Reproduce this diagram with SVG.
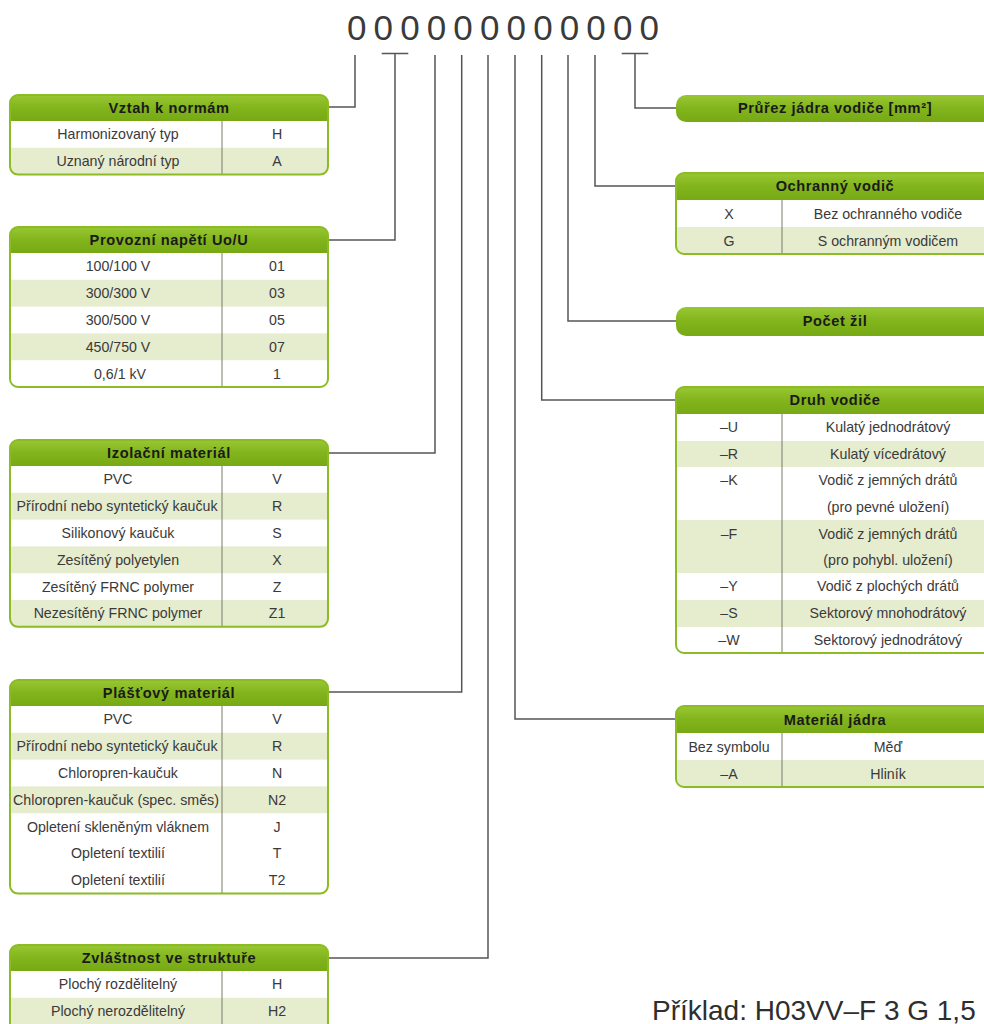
<svg xmlns="http://www.w3.org/2000/svg" width="984" height="1024" viewBox="0 0 984 1024">
<style>
.hd{fill:url(#hg)}
.w{fill:#ffffff}
.g{fill:#e6ecce}
.bd{fill:none;stroke:#8cbc24;stroke-width:2}
.dv{stroke:#7a7a6a;stroke-width:1}
.t{font-family:"Liberation Sans",Arial,sans-serif;font-size:14.2px;fill:#3a3a3a;text-anchor:middle}
.h{font-family:"Liberation Sans",Arial,sans-serif;font-size:14.6px;font-weight:bold;fill:#1a1a1a;text-anchor:middle;letter-spacing:0.6px}
.z{font-family:"Liberation Sans",Arial,sans-serif;font-size:35px;fill:#3a3a3a;text-anchor:middle}
.ex{font-family:"Liberation Sans",Arial,sans-serif;font-size:28px;fill:#2e2e2e}
.c{fill:none;stroke:#555;stroke-width:1.5}
</style>
<defs>
<linearGradient id="hg" x1="0" y1="0" x2="0" y2="1">
<stop offset="0" stop-color="#98c733"/>
<stop offset="0.5" stop-color="#82b41c"/>
<stop offset="1" stop-color="#77a915"/>
</linearGradient>
<clipPath id="c1"><rect x="10" y="95" width="318" height="79.6" rx="8"/></clipPath>
<clipPath id="c2"><rect x="10" y="227" width="318" height="160" rx="8"/></clipPath>
<clipPath id="c3"><rect x="10" y="440" width="318" height="186.8" rx="8"/></clipPath>
<clipPath id="c4"><rect x="10" y="680" width="318" height="213.6" rx="8"/></clipPath>
<clipPath id="c5"><rect x="10" y="945" width="318" height="90" rx="8"/></clipPath>
<clipPath id="r2"><rect x="676" y="173" width="318" height="81" rx="8"/></clipPath>
<clipPath id="r4"><rect x="676" y="387" width="318" height="266" rx="8"/></clipPath>
<clipPath id="r5"><rect x="676" y="706" width="318" height="81" rx="8"/></clipPath>
</defs>
<rect width="984" height="1024" fill="#ffffff"/>

<g id="code">
<text class="z" x="356.7" y="40">0</text>
<text class="z" x="383.3" y="40">0</text>
<text class="z" x="409.9" y="40">0</text>
<text class="z" x="436.5" y="40">0</text>
<text class="z" x="463.1" y="40">0</text>
<text class="z" x="489.7" y="40">0</text>
<text class="z" x="516.3" y="40">0</text>
<text class="z" x="542.9" y="40">0</text>
<text class="z" x="569.5" y="40">0</text>
<text class="z" x="596.1" y="40">0</text>
<text class="z" x="622.7" y="40">0</text>
<text class="z" x="649.3" y="40">0</text>
</g>

<g id="connectors">
<path class="c" d="M355 55 V107 H328"/>
<path class="c" d="M381.7 53.5 H408.3 M395 53.5 V240 H328"/>
<path class="c" d="M435 55 V453 H328"/>
<path class="c" d="M461.7 55 V692 H328"/>
<path class="c" d="M488 55 V958 H328"/>
<path class="c" d="M515 55 V719 H676"/>
<path class="c" d="M541.7 55 V400 H676"/>
<path class="c" d="M568 55 V321 H676"/>
<path class="c" d="M595 55 V186 H676"/>
<path class="c" d="M621.7 53.5 H648.3 M635 53.5 V108 H676"/>
</g>

<g id="vztah">
<g clip-path="url(#c1)">
<rect class="w" x="10" y="95" width="318" height="80"/>
<rect class="hd" x="10" y="95" width="318" height="26"/>
<rect class="g" x="10" y="147.8" width="318" height="27"/>
</g>
<line class="dv" x1="222" y1="121" x2="222" y2="174.6"/>
<rect class="bd" x="10" y="95" width="318" height="79.6" rx="8"/>
<text class="h" x="169" y="113">Vztah k normám</text>
<text class="t" x="118" y="139.4">Harmonizovaný typ</text><text class="t" x="277" y="139.4">H</text>
<text class="t" x="118" y="166.2">Uznaný národní typ</text><text class="t" x="277" y="166.2">A</text>
</g>

<g id="napeti">
<g clip-path="url(#c2)">
<rect class="w" x="10" y="227" width="318" height="160"/>
<rect class="hd" x="10" y="227" width="318" height="26"/>
<rect class="g" x="10" y="279.8" width="318" height="26.8"/>
<rect class="g" x="10" y="333.4" width="318" height="26.8"/>
</g>
<line class="dv" x1="222" y1="253" x2="222" y2="387"/>
<rect class="bd" x="10" y="227" width="318" height="160" rx="8"/>
<text class="h" x="169" y="245">Provozní napětí Uo/U</text>
<text class="t" x="118" y="271.4">100/100 V</text><text class="t" x="277" y="271.4">01</text>
<text class="t" x="118" y="298.2">300/300 V</text><text class="t" x="277" y="298.2">03</text>
<text class="t" x="118" y="325">300/500 V</text><text class="t" x="277" y="325">05</text>
<text class="t" x="118" y="351.8">450/750 V</text><text class="t" x="277" y="351.8">07</text>
<text class="t" x="120" y="378.6">0,6/1 kV</text><text class="t" x="277" y="378.6">1</text>
</g>

<g id="izolace">
<g clip-path="url(#c3)">
<rect class="w" x="10" y="440" width="318" height="187"/>
<rect class="hd" x="10" y="440" width="318" height="26"/>
<rect class="g" x="10" y="492.8" width="318" height="26.8"/>
<rect class="g" x="10" y="546.4" width="318" height="26.8"/>
<rect class="g" x="10" y="600" width="318" height="27"/>
</g>
<line class="dv" x1="222" y1="466" x2="222" y2="626.8"/>
<rect class="bd" x="10" y="440" width="318" height="186.8" rx="8"/>
<text class="h" x="169" y="458">Izolační materiál</text>
<text class="t" x="118" y="484.4">PVC</text><text class="t" x="277" y="484.4">V</text>
<text class="t" x="117" y="511.2">Přírodní nebo syntetický kaučuk</text><text class="t" x="277" y="511.2">R</text>
<text class="t" x="118" y="538">Silikonový kaučuk</text><text class="t" x="277" y="538">S</text>
<text class="t" x="118" y="564.8">Zesítěný polyetylen</text><text class="t" x="277" y="564.8">X</text>
<text class="t" x="118" y="591.6">Zesítěný FRNC polymer</text><text class="t" x="277" y="591.6">Z</text>
<text class="t" x="118" y="618.4">Nezesítěný FRNC polymer</text><text class="t" x="277" y="618.4">Z1</text>
</g>

<g id="plast">
<g clip-path="url(#c4)">
<rect class="w" x="10" y="680" width="318" height="214"/>
<rect class="hd" x="10" y="680" width="318" height="26"/>
<rect class="g" x="10" y="732.8" width="318" height="26.8"/>
<rect class="g" x="10" y="786.4" width="318" height="26.8"/>
</g>
<line class="dv" x1="222" y1="706" x2="222" y2="893.6"/>
<rect class="bd" x="10" y="680" width="318" height="213.6" rx="8"/>
<text class="h" x="169" y="698">Plášťový materiál</text>
<text class="t" x="118" y="724.4">PVC</text><text class="t" x="277" y="724.4">V</text>
<text class="t" x="117" y="751.2">Přírodní nebo syntetický kaučuk</text><text class="t" x="277" y="751.2">R</text>
<text class="t" x="118" y="778">Chloropren-kaučuk</text><text class="t" x="277" y="778">N</text>
<text class="t" x="116" y="804.8" textLength="206" lengthAdjust="spacingAndGlyphs">Chloropren-kaučuk (spec. směs)</text><text class="t" x="277" y="804.8">N2</text>
<text class="t" x="118" y="831.6">Opletení skleněným vláknem</text><text class="t" x="277" y="831.6">J</text>
<text class="t" x="118" y="858.4">Opletení textilií</text><text class="t" x="277" y="858.4">T</text>
<text class="t" x="118" y="885.2">Opletení textilií</text><text class="t" x="277" y="885.2">T2</text>
</g>

<g id="struktura">
<g clip-path="url(#c5)">
<rect class="w" x="10" y="945" width="318" height="90"/>
<rect class="hd" x="10" y="945" width="318" height="26"/>
<rect class="g" x="10" y="997.8" width="318" height="40"/>
</g>
<line class="dv" x1="222" y1="971" x2="222" y2="1035"/>
<rect class="bd" x="10" y="945" width="318" height="90" rx="8"/>
<text class="h" x="169" y="963">Zvláštnost ve struktuře</text>
<text class="t" x="118" y="989.4">Plochý rozdělitelný</text><text class="t" x="277" y="989.4">H</text>
<text class="t" x="118" y="1016.2">Plochý nerozdělitelný</text><text class="t" x="277" y="1016.2">H2</text>
</g>

<g id="prurez">
<rect class="hd" x="676" y="95" width="318" height="27" rx="10"/>
<text class="h" x="835" y="113">Průřez jádra vodiče [mm²]</text>
</g>

<g id="ochranny">
<g clip-path="url(#r2)">
<rect class="w" x="676" y="173" width="318" height="81"/>
<rect class="hd" x="676" y="173" width="318" height="27"/>
<rect class="g" x="676" y="227" width="318" height="27"/>
</g>
<line class="dv" x1="782" y1="200" x2="782" y2="254"/>
<rect class="bd" x="676" y="173" width="318" height="81" rx="8"/>
<text class="h" x="835" y="191">Ochranný vodič</text>
<text class="t" x="729" y="218.5">X</text><text class="t" x="888" y="218.5">Bez ochranného vodiče</text>
<text class="t" x="729" y="245.5">G</text><text class="t" x="888" y="245.5">S ochranným vodičem</text>
</g>

<g id="pocet">
<rect class="hd" x="676" y="307" width="318" height="29" rx="10"/>
<text class="h" x="835" y="326">Počet žil</text>
</g>

<g id="druh">
<g clip-path="url(#r4)">
<rect class="w" x="676" y="387" width="318" height="266"/>
<rect class="hd" x="676" y="387" width="318" height="27"/>
<rect class="g" x="676" y="441" width="318" height="26"/>
<rect class="g" x="676" y="520" width="318" height="53"/>
<rect class="g" x="676" y="600" width="318" height="27"/>
</g>
<line class="dv" x1="782" y1="414" x2="782" y2="653"/>
<rect class="bd" x="676" y="387" width="318" height="266" rx="8"/>
<text class="h" x="835" y="405">Druh vodiče</text>
<text class="t" x="729" y="432">–U</text><text class="t" x="888" y="432">Kulatý jednodrátový</text>
<text class="t" x="729" y="458.5">–R</text><text class="t" x="888" y="458.5">Kulatý vícedrátový</text>
<text class="t" x="729" y="485">–K</text><text class="t" x="888" y="485">Vodič z jemných drátů</text>
<text class="t" x="888" y="512">(pro pevné uložení)</text>
<text class="t" x="729" y="539">–F</text><text class="t" x="888" y="539">Vodič z jemných drátů</text>
<text class="t" x="888" y="565">(pro pohybl. uložení)</text>
<text class="t" x="729" y="591">–Y</text><text class="t" x="888" y="591">Vodič z plochých drátů</text>
<text class="t" x="729" y="618">–S</text><text class="t" x="888" y="618">Sektorový mnohodrátový</text>
<text class="t" x="729" y="644.5">–W</text><text class="t" x="888" y="644.5">Sektorový jednodrátový</text>
</g>

<g id="material">
<g clip-path="url(#r5)">
<rect class="w" x="676" y="706" width="318" height="81"/>
<rect class="hd" x="676" y="706" width="318" height="27"/>
<rect class="g" x="676" y="760" width="318" height="27"/>
</g>
<line class="dv" x1="782" y1="733" x2="782" y2="787"/>
<rect class="bd" x="676" y="706" width="318" height="81" rx="8"/>
<text class="h" x="835" y="724.5">Materiál jádra</text>
<text class="t" x="729" y="751.5">Bez symbolu</text><text class="t" x="888" y="751.5">Měď</text>
<text class="t" x="729" y="778.5">–A</text><text class="t" x="888" y="778.5">Hliník</text>
</g>

<g id="priklad">
<text class="ex" x="652" y="1020">Příklad: H03VV–F 3 G 1,5</text>
</g>
</svg>
